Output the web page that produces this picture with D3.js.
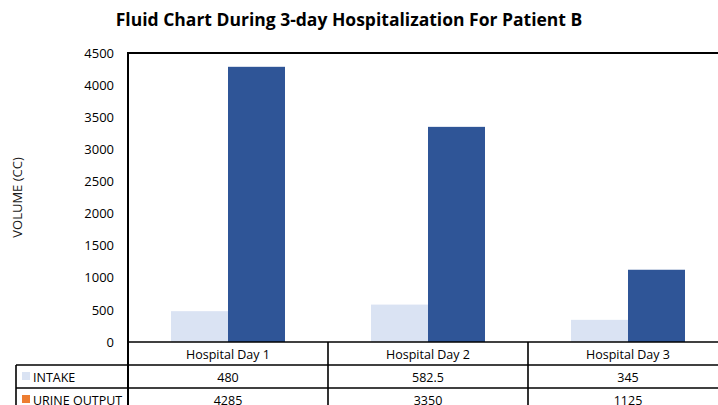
<!DOCTYPE html>
<html>
<head>
<meta charset="utf-8">
<script src="https://cdn.jsdelivr.net/npm/d3@7"></script>
<style>
  body { margin: 0; background: #fff; }
  svg { font-family: "Open Sans", sans-serif; }
</style>
</head>
<body>
<svg id="chart" width="718" height="405"></svg>
<script>
// data
const days = ["Hospital Day 1", "Hospital Day 2", "Hospital Day 3"];
const seriesNames = ["INTAKE", "URINE OUTPUT"];
const intake = [480, 582.5, 345];
const urineOutput = [4285, 3350, 1125];
const yTicks = [0, 500, 1000, 1500, 2000, 2500, 3000, 3500, 4000, 4500];

const barColors = ["#dae3f3", "#2f5597"];
const keyColors = ["#dae3f3", "#ed7d31"]; // legend key in the table is orange in the original

const svg = d3.select("#chart");

// plot area
const plotLeft = 128, plotRight = 728, plotTop = 53, plotBottom = 342;
const rowH = 23;
const legendLeft = 16;

const rows = days.map((d, i) => ({ day: d, values: [intake[i], urineOutput[i]] }));

const xScale = d3.scaleBand().domain(days).range([plotLeft, plotRight]);
const xInner = d3.scaleBand().domain(seriesNames).range([0, 114]);
const yScale = d3.scaleLinear().domain([0, 4500]).range([plotBottom, plotTop]);

// title
svg.append("text")
  .attr("x", 349)
  .attr("y", 26)
  .attr("text-anchor", "middle")
  .style("font-size", "17.5px")
  .style("font-weight", 700)
  .attr("fill", "#000")
  .text("Fluid Chart During 3-day Hospitalization For Patient B");

// y axis label
svg.append("text")
  .attr("transform", `translate(22, ${(plotTop + plotBottom) / 2}) rotate(-90)`)
  .attr("text-anchor", "middle")
  .style("font-size", "13px")
  .attr("fill", "#1a1a1a")
  .text("VOLUME (CC)");

// bars
const groups = svg.append("g").selectAll("g")
  .data(rows)
  .join("g")
    .attr("transform", d => `translate(${xScale(d.day) + (xScale.bandwidth() - 114) / 2}, 0)`);

groups.selectAll("rect")
  .data(d => d.values.map((v, i) => ({ key: seriesNames[i], value: v, idx: i })))
  .join("rect")
    .attr("x", d => xInner(d.key))
    .attr("width", xInner.bandwidth())
    .attr("y", d => yScale(d.value))
    .attr("height", d => plotBottom - yScale(d.value))
    .attr("fill", d => barColors[d.idx]);

// y axis
const yAxis = svg.append("g")
  .attr("transform", `translate(${plotLeft}, 0)`)
  .call(d3.axisLeft(yScale).tickValues(yTicks).tickSize(0).tickPadding(14).tickFormat(d3.format("d")));
yAxis.select(".domain").remove();
yAxis.selectAll("text")
  .style("font-size", "13px")
  .style("font-family", "'Open Sans', sans-serif")
  .attr("fill", "#000");

// plot border: top and left
svg.append("line")
  .attr("x1", plotLeft).attr("x2", plotRight)
  .attr("y1", yScale(4500)).attr("y2", yScale(4500))
  .attr("stroke", "#000").attr("stroke-width", 2);
svg.append("line")
  .attr("x1", plotLeft).attr("x2", plotLeft)
  .attr("y1", plotTop - 1).attr("y2", plotBottom + rowH * 3)
  .attr("stroke", "#000").attr("stroke-width", 2);

// data table below
const table = svg.append("g");
// horizontal rules
[plotBottom, plotBottom + rowH, plotBottom + rowH * 2].forEach((y, i) => {
  table.append("line")
    .attr("x1", i === 0 ? plotLeft : legendLeft).attr("x2", plotRight)
    .attr("y1", y).attr("y2", y)
    .attr("stroke", "#000").attr("stroke-width", 1.6);
});
// legend column left border
table.append("line")
  .attr("x1", legendLeft).attr("x2", legendLeft)
  .attr("y1", plotBottom + rowH).attr("y2", plotBottom + rowH * 3)
  .attr("stroke", "#000").attr("stroke-width", 1.6);
// column separators
days.forEach(d => {
  table.append("line")
    .attr("x1", xScale(d) + xScale.bandwidth()).attr("x2", xScale(d) + xScale.bandwidth())
    .attr("y1", plotBottom).attr("y2", plotBottom + rowH * 3)
    .attr("stroke", "#000").attr("stroke-width", 1.6);
});

// header row
table.selectAll(".hdr")
  .data(days)
  .join("text")
    .attr("class", "hdr")
    .attr("x", d => xScale(d) + xScale.bandwidth() / 2)
    .attr("y", plotBottom + rowH / 2 + 5)
    .attr("text-anchor", "middle")
    .style("font-size", "12.5px")
    .text(d => d);

// series rows
seriesNames.forEach((name, si) => {
  const yMid = plotBottom + rowH * (si + 1) + rowH / 2;
  table.append("rect")
    .attr("x", legendLeft + 6).attr("y", yMid - 4.5)
    .attr("width", 8).attr("height", 8)
    .attr("fill", keyColors[si]);
  table.append("text")
    .attr("x", legendLeft + 17)
    .attr("y", yMid + 5)
    .style("font-size", "12.5px")
    .text(name);
  table.selectAll(`.val${si}`)
    .data(rows)
    .join("text")
      .attr("class", `val${si}`)
      .attr("x", d => xScale(d.day) + xScale.bandwidth() / 2)
      .attr("y", yMid + 5)
      .attr("text-anchor", "middle")
      .style("font-size", "12.5px")
      .text(d => d.values[si]);
});
</script>
</body>
</html>
